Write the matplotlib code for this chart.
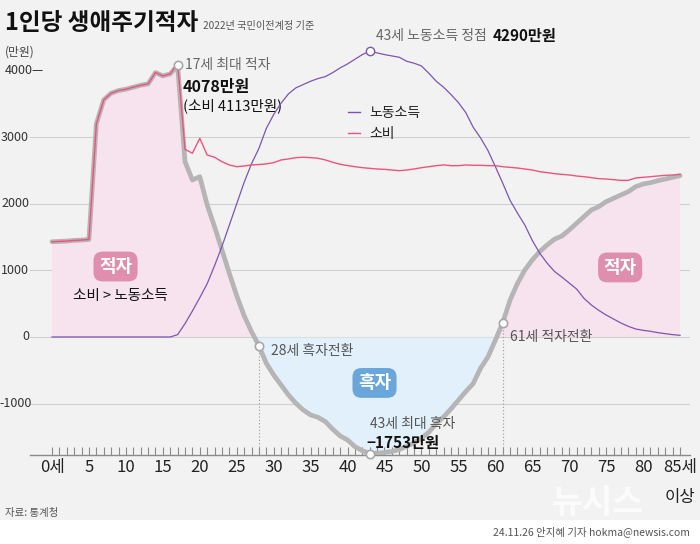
import matplotlib
matplotlib.use("Agg")
import matplotlib.pyplot as plt
from matplotlib.patches import Rectangle

plt.rcParams['font.family'] = ['Noto Sans CJK KR', 'DejaVu Sans']
plt.rcParams['axes.unicode_minus'] = False

# ages 0..85 (85 = 85세 이상), values in 만원
ages = list(range(86))

consumption = [1430, 1435, 1440, 1450, 1455, 1465, 3200, 3560, 3660, 3700,
               3720, 3750, 3780, 3800, 3970, 3920, 3950, 4113, 2818, 2758,
               2983, 2733, 2698, 2632, 2583, 2557, 2567, 2583, 2590, 2598,
               2618, 2658, 2673, 2693, 2698, 2693, 2683, 2658, 2623, 2593,
               2573, 2557, 2542, 2532, 2522, 2517, 2507, 2497, 2507, 2522,
               2542, 2557, 2572, 2583, 2572, 2572, 2583, 2578, 2578, 2572,
               2572, 2557, 2547, 2537, 2522, 2507, 2482, 2468, 2452, 2442,
               2432, 2417, 2407, 2392, 2377, 2372, 2362, 2352, 2352, 2387,
               2397, 2407, 2417, 2427, 2432, 2442]

labor_income = [0, 0, 0, 0, 0, 0, 0, 0, 0, 0,
                0, 0, 0, 0, 0, 0, 0, 35, 200, 390,
                590, 800, 1070, 1360, 1680, 2000, 2320, 2600, 2830, 3130,
                3340, 3510, 3650, 3740, 3790, 3840, 3880, 3910, 3970, 4040,
                4100, 4170, 4240, 4290, 4265, 4240, 4220, 4200, 4140, 4110,
                4070, 3960, 3840, 3750, 3640, 3520, 3370, 3150, 2990, 2800,
                2560, 2310, 2050, 1860, 1680, 1450, 1260, 1110, 985, 900,
                810, 720, 580, 480, 400, 330, 270, 210, 160, 120,
                100, 85, 65, 50, 35, 25]

deficit = [1430, 1435, 1440, 1450, 1455, 1465, 3200, 3560, 3660, 3700,
           3720, 3750, 3780, 3800, 3970, 3920, 3950, 4078, 2632, 2357,
           2407, 1982, 1656, 1306, 956, 620, 320, 80, -130, -395,
           -570, -720, -870, -995, -1096, -1171, -1206, -1271, -1386, -1486,
           -1546, -1647, -1707, -1753, -1745, -1735, -1720, -1690, -1640, -1590,
           -1520, -1430, -1300, -1200, -1080, -950, -820, -700, -470, -300,
           -50, 215, 555, 806, 1006, 1156, 1281, 1381, 1467, 1516,
           1607, 1707, 1807, 1907, 1957, 2032, 2082, 2132, 2182, 2257,
           2297, 2317, 2347, 2372, 2397, 2422]

xtick_pos = list(range(0, 86, 5))
xtick_labels = ['0세'] + [str(a) for a in range(5, 85, 5)] + ['85세']
ytick_pos = [-1000, 0, 1000, 2000, 3000]

bg = '#f2f2f2'
purple = '#7d55b0'
pink = '#f0527e'
grey = '#b5b5b5'

fig = plt.figure(figsize=(7.0, 5.44), dpi=100, facecolor=bg)
fig.patches.append(Rectangle((0, 0), 1, 24 / 544, transform=fig.transFigure,
                             facecolor='white', edgecolor='none', zorder=0))
ax = fig.add_axes([30 / 700, 89 / 544, 660 / 700, 415 / 544])
ax.set_facecolor(bg)
ax.set_xlim(-2.98, 86.35)
ax.set_ylim(-1772, 4459)

# grid
for v in ytick_pos:
    ax.axhline(v, color='#cfcfcf', lw=0.8, zorder=0)

# areas
ax.fill_between(ages, deficit, 0, where=[d >= 0 for d in deficit],
                interpolate=True, color='#f6e3ee', lw=0, zorder=1)
ax.fill_between(ages, deficit, 0, where=[d <= 0 for d in deficit],
                interpolate=True, color='#e1f0fa', lw=0, zorder=1)

# lines
ax.plot(ages, deficit, color=grey, lw=3.4, solid_capstyle='round',
        solid_joinstyle='round', zorder=3)
ax.plot(ages, labor_income, color=purple, lw=0.9, zorder=4)
ax.plot(ages, consumption, color=pink, lw=1.0, zorder=4)

# transition guides
for a in (28, 61):
    ax.plot([a, a], [deficit[a], -1772], color='#9a9a9a', lw=0.8,
            ls=(0, (1, 2)), zorder=2)

# markers
for a in (17, 28, 43, 61):
    ax.plot(a, deficit[a], 'o', ms=6, mfc='white', mec='#a8a8a8', mew=1.2,
            zorder=6, clip_on=False)
ax.plot(43, labor_income[43], 'o', ms=6, mfc='white', mec=purple, mew=1.0,
        zorder=6, clip_on=False)

# axes style
for s in ('left', 'right', 'top'):
    ax.spines[s].set_visible(False)
ax.spines['bottom'].set_color('#8a8a8a')
ax.spines['bottom'].set_linewidth(1.0)
ax.set_xticks(xtick_pos)
ax.set_xticklabels(xtick_labels, fontsize=12, color='#222222')
ax.set_xticks(ages, minor=True)
ax.tick_params(axis='x', which='both', direction='in', length=6,
               color='#8a8a8a', width=0.8, pad=3)
ax.set_yticks([])

for v in ytick_pos:
    ax.text(-2.8 if v < 0 else -3.1, v, '-1000' if v < 0 else str(v),
            ha='right', va='center', fontsize=9, color='#333333',
            clip_on=False)
ax.text(-6.4, 4000, '4000—', ha='left', va='center', fontsize=9,
        color='#333333', clip_on=False)
ax.text(-6.4, 4280, '(만원)', ha='left', va='center', fontsize=8.5,
        color='#444444', clip_on=False)
ax.text(85, -2417, '이상', ha='center', va='center', fontsize=12,
        color='#222222', clip_on=False)

# annotations
ax.text(18.0, 4084, '17세 최대 적자', ha='left', va='center', fontsize=10,
        color='#666666')
ax.text(17.7, 3754, '4078만원', ha='left', va='center', fontsize=11.5,
        fontweight='bold', color='#111111')
ax.text(17.7, 3468, '(소비 4113만원)', ha='left', va='center', fontsize=10.5,
        fontweight='medium', color='#111111')

ax.text(59.3, 4520, '43세 노동소득 정점 ', ha='right', va='center',
        fontsize=10, color='#666666', clip_on=False)
ax.text(59.7, 4520, '4290만원', ha='left', va='center', fontsize=11,
        fontweight='bold', color='#111111', clip_on=False)

# legend
ax.plot([40.0, 41.7], [3378, 3378], color=purple, lw=1.0)
ax.text(43.0, 3360, '노동소득', ha='left', va='center', fontsize=10,
        color='#222222')
ax.plot([40.0, 41.7], [3063, 3063], color=pink, lw=1.0)
ax.text(43.0, 3045, '소비', ha='left', va='center', fontsize=10,
        color='#222222')

box_pink = dict(boxstyle='round,pad=0.3,rounding_size=0.5', fc='#e08eae',
                ec='none')
box_blue = dict(boxstyle='round,pad=0.3,rounding_size=0.5', fc='#6aa6da',
                ec='none')
ax.text(8.6, 1058, '적자', ha='center', va='center', fontsize=13,
        fontweight='bold', color='white', bbox=box_pink, zorder=7)
ax.text(76.9, 1044, '적자', ha='center', va='center', fontsize=13,
        fontweight='bold', color='white', bbox=box_pink, zorder=7)
ax.text(43.65, -690, '흑자', ha='center', va='center', fontsize=13,
        fontweight='bold', color='white', bbox=box_blue, zorder=7)
ax.text(9.3, 616, '소비 > 노동소득', ha='center', va='center', fontsize=10.5,
        color='#111111')

ax.text(29.6, -205, '28세 흑자전환', ha='left', va='center', fontsize=10,
        color='#555555', zorder=7)
ax.text(62.0, 0, '61세 적자전환', ha='left', va='center', fontsize=10,
        color='#555555', zorder=7)
ax.text(43.0, -1306, '43세 최대 흑자', ha='left', va='center', fontsize=10,
        color='#555555', zorder=7)
ax.text(42.6, -1592, '−1753만원', ha='left', va='center', fontsize=11,
        fontweight='bold', color='#111111', zorder=7)

# title, source, credit
fig.text(5 / 700, 1 - 23 / 544, '1인당 생애주기적자', ha='left', va='center',
         fontsize=17, fontweight='bold', color='#111111')
fig.text(203 / 700, 1 - 26 / 544, '2022년 국민이전계정 기준', ha='left',
         va='center', fontsize=7.3, color='#555555')
fig.text(5 / 700, 1 - 513 / 544, '자료: 통계청', ha='left', va='center',
         fontsize=7.5, color='#555555')
fig.text(690 / 700, 1 - 532 / 544, '24.11.26 안지혜 기자 hokma@newsis.com',
         ha='right', va='center', fontsize=7.5, color='#555555')
fig.text(598 / 700, 1 - 503 / 544, '뉴시스', ha='center', va='center',
         fontsize=24, fontweight='bold', color='white', alpha=0.75)

fig.savefig('out.png', dpi=100, facecolor=bg)
